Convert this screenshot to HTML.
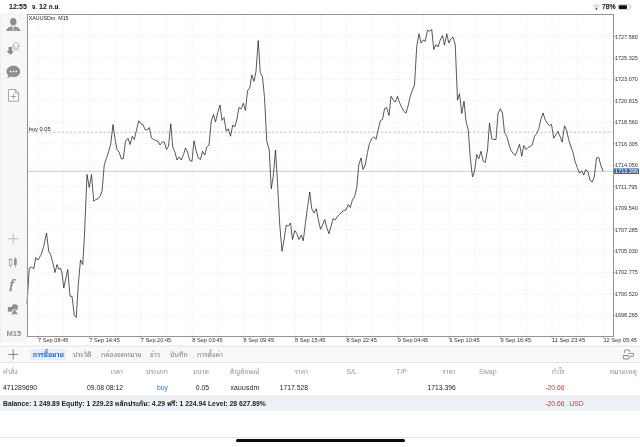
<!DOCTYPE html>
<html lang="th"><head><meta charset="utf-8"><title>XAUUSDm M15</title>
<style>
html,body{margin:0;padding:0;background:#fff;}
body{width:640px;height:447px;position:relative;overflow:hidden;font-family:"Liberation Sans","Noto Sans Thai Looped","Noto Sans Thai","Loma",sans-serif;color:#222;}
.abs{position:absolute;white-space:nowrap;}
.side{position:absolute;left:0;top:13px;width:27px;height:330px;background:#f7f7f7;border-left:1px solid #eeeff2;box-sizing:border-box;}
.chart{position:absolute;left:0;top:0;}
.g{stroke:#e3e3e3;stroke-width:0.8;stroke-dasharray:1.1 2.1;}
.pl{font-size:5.5px;fill:#333;font-family:"Liberation Sans",sans-serif;}
.tl{font-size:5.65px;fill:#333;font-family:"Liberation Sans",sans-serif;}
.tt{font-size:5.3px;fill:#222;font-family:"Liberation Sans",sans-serif;}
.sb{font-size:7px;font-weight:bold;color:#111;top:2.5px;line-height:8px;}
.th{font-size:6.1px;}
.tabbar{position:absolute;left:0;top:345px;width:640px;height:18px;background:#f9f9f9;border-top:2.7px solid #f0f0f0;border-bottom:1px solid #e6e6e6;box-sizing:border-box;}
.tab{font-size:7px;color:#7b8594;top:350.3px;line-height:9px;}
.tabsel{position:absolute;left:30px;top:349.1px;width:36.4px;height:10.5px;background:#e5effc;border-radius:2px;}
.hd{font-size:7px;color:#9a9a9a;top:366.5px;line-height:9px;}
.rw{font-size:6.8px;color:#222;top:382.5px;line-height:9px;}
.r{text-align:right;}
.sum{position:absolute;left:0;top:395.4px;width:640px;height:15.3px;background:#eef2f8;}
.sm{font-size:6.8px;font-weight:bold;color:#222;top:398.6px;line-height:9px;}
.home{position:absolute;left:235.5px;top:438.6px;width:169px;height:3.6px;border-radius:2px;background:#0a0a0a;}
.bl{position:absolute;left:0;top:436.6px;width:640px;height:0.7px;background:#e4e4e4;}
</style></head><body>
<div class="side"></div>
<svg class="chart" width="640" height="447" viewBox="0 0 640 447">
<line x1="38.0" y1="15" x2="38.0" y2="336" class="g"/>
<line x1="63.7" y1="15" x2="63.7" y2="336" class="g"/>
<line x1="89.4" y1="15" x2="89.4" y2="336" class="g"/>
<line x1="115.1" y1="15" x2="115.1" y2="336" class="g"/>
<line x1="140.8" y1="15" x2="140.8" y2="336" class="g"/>
<line x1="166.5" y1="15" x2="166.5" y2="336" class="g"/>
<line x1="192.2" y1="15" x2="192.2" y2="336" class="g"/>
<line x1="217.9" y1="15" x2="217.9" y2="336" class="g"/>
<line x1="243.6" y1="15" x2="243.6" y2="336" class="g"/>
<line x1="269.3" y1="15" x2="269.3" y2="336" class="g"/>
<line x1="295.0" y1="15" x2="295.0" y2="336" class="g"/>
<line x1="320.7" y1="15" x2="320.7" y2="336" class="g"/>
<line x1="346.4" y1="15" x2="346.4" y2="336" class="g"/>
<line x1="372.1" y1="15" x2="372.1" y2="336" class="g"/>
<line x1="397.8" y1="15" x2="397.8" y2="336" class="g"/>
<line x1="423.5" y1="15" x2="423.5" y2="336" class="g"/>
<line x1="449.2" y1="15" x2="449.2" y2="336" class="g"/>
<line x1="474.9" y1="15" x2="474.9" y2="336" class="g"/>
<line x1="500.6" y1="15" x2="500.6" y2="336" class="g"/>
<line x1="526.3" y1="15" x2="526.3" y2="336" class="g"/>
<line x1="552.0" y1="15" x2="552.0" y2="336" class="g"/>
<line x1="577.7" y1="15" x2="577.7" y2="336" class="g"/>
<line x1="603.4" y1="15" x2="603.4" y2="336" class="g"/>
<line x1="28" y1="36.5" x2="613" y2="36.5" class="g"/>
<line x1="28" y1="58.0" x2="613" y2="58.0" class="g"/>
<line x1="28" y1="79.4" x2="613" y2="79.4" class="g"/>
<line x1="28" y1="100.8" x2="613" y2="100.8" class="g"/>
<line x1="28" y1="122.3" x2="613" y2="122.3" class="g"/>
<line x1="28" y1="143.8" x2="613" y2="143.8" class="g"/>
<line x1="28" y1="165.2" x2="613" y2="165.2" class="g"/>
<line x1="28" y1="186.7" x2="613" y2="186.7" class="g"/>
<line x1="28" y1="208.1" x2="613" y2="208.1" class="g"/>
<line x1="28" y1="229.5" x2="613" y2="229.5" class="g"/>
<line x1="28" y1="251.0" x2="613" y2="251.0" class="g"/>
<line x1="28" y1="272.4" x2="613" y2="272.4" class="g"/>
<line x1="28" y1="293.9" x2="613" y2="293.9" class="g"/>
<line x1="28" y1="315.3" x2="613" y2="315.3" class="g"/>
<line x1="28" y1="132.2" x2="613" y2="132.2" stroke="#a8b2a8" stroke-width="0.8" stroke-dasharray="2.2 2"/>
<line x1="28" y1="171.3" x2="613" y2="171.3" stroke="#b6bccb" stroke-width="0.8"/>
<polyline points="27.00,303.75 29.25,268.25 31.25,267.00 33.75,268.75 35.75,257.50 38.00,260.00 41.25,254.50 43.75,246.25 46.50,233.00 48.75,251.25 50.50,254.50 52.50,261.25 55.00,272.50 57.00,264.50 59.00,269.50 60.50,268.00 62.00,273.00 63.75,288.00 65.75,278.75 67.75,269.50 70.00,296.25 72.00,296.25 74.25,315.00 76.25,317.50 78.25,285.00 80.50,260.00 82.75,264.50 84.50,234.00 87.00,174.50 89.25,187.50 91.50,174.50 93.75,201.25 95.75,199.50 98.00,198.75 100.00,196.25 102.00,191.25 104.25,165.00 106.25,158.75 108.75,151.25 110.75,143.75 113.00,124.50 115.00,138.75 117.00,149.50 119.25,152.50 121.25,158.75 123.25,158.75 125.50,141.25 128.00,138.25 130.00,144.50 132.25,136.25 134.25,139.50 136.50,130.00 138.75,120.75 140.75,123.75 143.00,124.50 145.00,129.50 147.25,130.00 149.25,127.50 151.50,138.00 153.75,139.50 155.75,140.50 158.00,141.25 160.00,145.00 162.25,142.00 164.25,142.00 166.50,149.50 168.50,146.25 170.75,123.75 172.75,147.00 175.00,152.50 177.00,160.00 179.25,157.00 181.25,160.00 183.50,154.50 185.50,148.00 187.50,152.00 189.75,160.50 192.00,161.25 194.00,140.75 196.25,151.25 198.25,158.00 200.50,159.50 202.50,151.25 204.75,155.00 206.75,147.00 209.00,145.00 211.25,121.25 213.50,114.50 215.50,122.00 217.75,112.50 220.00,105.00 222.00,120.50 224.00,117.50 226.25,131.25 228.25,128.75 230.50,136.25 232.75,125.00 234.75,127.00 236.75,120.00 239.00,107.50 241.25,108.75 243.25,103.25 245.50,110.50 247.50,90.75 249.75,88.00 251.75,75.00 254.00,81.25 256.00,71.25 258.25,40.50 260.25,72.50 262.50,77.00 264.50,97.50 266.75,141.00 269.25,150.00 271.25,188.75 273.25,176.25 275.50,150.00 277.50,182.50 279.75,225.00 282.00,251.25 284.00,240.00 286.25,225.00 288.25,226.25 290.50,223.00 292.50,239.50 294.75,230.50 297.00,233.75 299.00,239.50 301.25,235.00 303.25,240.75 305.50,222.50 307.50,207.50 309.75,192.00 311.75,208.75 314.00,213.00 316.25,208.75 318.25,219.50 320.50,229.25 322.50,225.00 324.75,219.50 326.75,227.50 329.00,233.75 331.00,226.25 333.25,218.75 335.25,220.00 337.50,216.25 339.50,214.50 341.75,212.00 343.75,210.50 346.00,210.00 348.25,204.50 350.25,207.50 352.50,199.50 354.50,197.00 356.75,187.50 358.75,165.00 361.00,158.00 363.00,169.50 365.25,165.00 367.50,152.50 369.40,143.75 371.50,139.00 373.75,136.90 376.00,139.40 378.10,130.00 380.40,120.60 382.50,119.40 384.60,108.50 386.60,107.50 389.00,115.60 391.00,96.25 393.25,100.00 395.25,102.00 397.50,96.25 399.50,102.50 401.75,107.50 403.75,111.25 406.00,113.25 408.00,106.25 410.25,96.25 412.50,90.00 414.50,85.00 416.75,46.25 419.00,33.75 421.00,43.00 423.25,40.00 425.25,41.25 427.50,30.00 429.50,31.25 431.75,29.50 433.75,49.50 436.00,44.50 438.00,47.00 440.25,40.00 442.50,35.50 444.50,45.00 446.75,33.75 448.75,43.00 451.00,38.75 453.00,37.00 455.25,45.00 457.50,100.00 459.50,93.75 461.75,113.50 464.00,101.25 466.00,121.00 468.25,130.00 470.25,157.50 472.50,177.00 474.50,171.25 476.75,154.50 478.75,158.75 481.00,151.25 483.25,161.25 485.25,162.50 487.50,150.00 489.50,123.00 491.75,138.75 493.75,139.50 496.00,139.50 498.00,113.75 500.25,108.75 502.50,113.00 504.50,132.50 506.75,136.25 508.75,143.75 511.00,150.50 513.00,153.25 515.25,155.50 517.25,150.50 519.50,144.25 521.75,156.25 523.75,145.50 526.00,149.50 528.00,147.50 530.25,146.25 532.25,145.00 534.50,136.25 536.50,133.75 538.75,128.75 541.00,118.75 543.00,113.00 545.25,120.00 547.25,123.00 549.50,125.50 551.50,124.50 553.75,138.25 555.75,135.00 558.00,131.25 560.25,137.00 562.25,142.00 564.50,125.75 566.50,130.00 568.75,140.00 570.75,146.25 573.00,152.50 575.00,161.25 577.25,167.50 579.50,173.25 581.50,170.75 583.75,175.00 585.75,169.50 588.00,172.00 590.00,180.00 592.25,182.00 594.25,177.00 596.50,158.00 598.75,157.50 600.75,165.00 603.00,171.25" fill="none" stroke="#222" stroke-width="0.75" stroke-linejoin="round"/>
<rect x="27.5" y="14.5" width="586" height="322" fill="none" stroke="#959595" stroke-width="1"/>
<line x1="613.5" y1="36.5" x2="615.5" y2="36.5" stroke="#8a8a8a" stroke-width="0.7"/>
<line x1="613.5" y1="58.0" x2="615.5" y2="58.0" stroke="#8a8a8a" stroke-width="0.7"/>
<line x1="613.5" y1="79.4" x2="615.5" y2="79.4" stroke="#8a8a8a" stroke-width="0.7"/>
<line x1="613.5" y1="100.8" x2="615.5" y2="100.8" stroke="#8a8a8a" stroke-width="0.7"/>
<line x1="613.5" y1="122.3" x2="615.5" y2="122.3" stroke="#8a8a8a" stroke-width="0.7"/>
<line x1="613.5" y1="143.8" x2="615.5" y2="143.8" stroke="#8a8a8a" stroke-width="0.7"/>
<line x1="613.5" y1="165.2" x2="615.5" y2="165.2" stroke="#8a8a8a" stroke-width="0.7"/>
<line x1="613.5" y1="186.7" x2="615.5" y2="186.7" stroke="#8a8a8a" stroke-width="0.7"/>
<line x1="613.5" y1="208.1" x2="615.5" y2="208.1" stroke="#8a8a8a" stroke-width="0.7"/>
<line x1="613.5" y1="229.5" x2="615.5" y2="229.5" stroke="#8a8a8a" stroke-width="0.7"/>
<line x1="613.5" y1="251.0" x2="615.5" y2="251.0" stroke="#8a8a8a" stroke-width="0.7"/>
<line x1="613.5" y1="272.4" x2="615.5" y2="272.4" stroke="#8a8a8a" stroke-width="0.7"/>
<line x1="613.5" y1="293.9" x2="615.5" y2="293.9" stroke="#8a8a8a" stroke-width="0.7"/>
<line x1="613.5" y1="315.3" x2="615.5" y2="315.3" stroke="#8a8a8a" stroke-width="0.7"/>
<line x1="38.0" y1="336.5" x2="38.0" y2="338.5" stroke="#8a8a8a" stroke-width="0.7"/>
<line x1="89.4" y1="336.5" x2="89.4" y2="338.5" stroke="#8a8a8a" stroke-width="0.7"/>
<line x1="140.8" y1="336.5" x2="140.8" y2="338.5" stroke="#8a8a8a" stroke-width="0.7"/>
<line x1="192.2" y1="336.5" x2="192.2" y2="338.5" stroke="#8a8a8a" stroke-width="0.7"/>
<line x1="243.6" y1="336.5" x2="243.6" y2="338.5" stroke="#8a8a8a" stroke-width="0.7"/>
<line x1="295.0" y1="336.5" x2="295.0" y2="338.5" stroke="#8a8a8a" stroke-width="0.7"/>
<line x1="346.4" y1="336.5" x2="346.4" y2="338.5" stroke="#8a8a8a" stroke-width="0.7"/>
<line x1="397.8" y1="336.5" x2="397.8" y2="338.5" stroke="#8a8a8a" stroke-width="0.7"/>
<line x1="449.2" y1="336.5" x2="449.2" y2="338.5" stroke="#8a8a8a" stroke-width="0.7"/>
<line x1="500.6" y1="336.5" x2="500.6" y2="338.5" stroke="#8a8a8a" stroke-width="0.7"/>
<line x1="552.0" y1="336.5" x2="552.0" y2="338.5" stroke="#8a8a8a" stroke-width="0.7"/>
<line x1="603.4" y1="336.5" x2="603.4" y2="338.5" stroke="#8a8a8a" stroke-width="0.7"/>
<text x="614.9" y="38.5" class="pl">1727.580</text>
<text x="614.9" y="60.0" class="pl">1725.325</text>
<text x="614.9" y="81.4" class="pl">1723.070</text>
<text x="614.9" y="102.8" class="pl">1720.815</text>
<text x="614.9" y="124.3" class="pl">1718.560</text>
<text x="614.9" y="145.8" class="pl">1716.305</text>
<text x="614.9" y="167.2" class="pl">1714.050</text>
<text x="614.9" y="188.7" class="pl">1711.795</text>
<text x="614.9" y="210.1" class="pl">1709.540</text>
<text x="614.9" y="231.5" class="pl">1707.285</text>
<text x="614.9" y="253.0" class="pl">1705.030</text>
<text x="614.9" y="274.4" class="pl">1702.775</text>
<text x="614.9" y="295.9" class="pl">1700.520</text>
<text x="614.9" y="317.3" class="pl">1698.265</text>
<text x="38.0" y="342.2" class="tl">7 Sep 08:45</text>
<text x="89.4" y="342.2" class="tl">7 Sep 14:45</text>
<text x="140.8" y="342.2" class="tl">7 Sep 20:45</text>
<text x="192.2" y="342.2" class="tl">8 Sep 03:45</text>
<text x="243.6" y="342.2" class="tl">8 Sep 09:45</text>
<text x="295.0" y="342.2" class="tl">8 Sep 15:45</text>
<text x="346.4" y="342.2" class="tl">8 Sep 22:45</text>
<text x="397.8" y="342.2" class="tl">9 Sep 04:45</text>
<text x="449.2" y="342.2" class="tl">9 Sep 10:45</text>
<text x="500.6" y="342.2" class="tl">9 Sep 16:45</text>
<text x="552.0" y="342.2" class="tl">11 Sep 23:45</text>
<text x="603.4" y="342.2" class="tl">12 Sep 05:45</text>
<rect x="614" y="168.4" width="25" height="5.6" fill="#3d64a0"/>
<text x="615.1" y="173.2" class="pl" fill="#fff" style="fill:#fff">1713.396</text>
<text x="28.8" y="19.6" class="tt">XAUUSDm, M15</text>
<text x="28.800" y="130.600" class="tt" style="font-size:5.7px">buy 0.05</text>
</svg>
<div class="abs sb" style="left:9px;">12:55</div>
<div class="abs sb" style="left:32px;"><span class="th">จ.</span> 12 <span class="th">ก.ย.</span></div>
<div class="abs sb" style="left:602px;font-size:6.8px;font-weight:normal;-webkit-text-stroke:0.25px #222;">78%</div>
<svg class="abs" style="left:592px;top:3px" width="42" height="8" viewBox="0 0 42 8">
<path d="M1.2 3.1 A4.6 4.6 0 0 1 7.600 3.1" fill="none" stroke="#c4c4c4" stroke-width="1"/>
<path d="M2.500 4.500 A2.800 2.800 0 0 1 6.300 4.500" fill="none" stroke="#c4c4c4" stroke-width="1"/>
<circle cx="4.400" cy="5.800" r="0.850" fill="#222"/>
<rect x="26.2" y="1.6" width="11.9" height="5" rx="1.4" fill="none" stroke="#a8a8a8" stroke-width="0.6"/>
<rect x="26.9" y="2.3" width="8.1" height="3.6" rx="0.9" fill="#111"/>
<path d="M38.8 3.2 v1.8 a1 1 0 0 0 0 -1.8z" fill="#a8a8a8"/>
</svg>

<!-- sidebar icons -->
<svg class="abs" style="left:0;top:13px" width="27" height="330" viewBox="0 13 27 330">
<g fill="#8e8e8e">
<!-- person -->
<ellipse cx="13.300" cy="21.700" rx="3.200" ry="3.800"/>
<path d="M6.4 31 q0.2 -3 3.4 -3.9 l2.1 -0.9 l1.3 2.6 l1.3 -2.6 l2.1 0.9 q3.2 0.9 3.4 3.9 z"/>
<path d="M12.500 28.300 v2.700 M14 28.300 v2.700 M10.300 29.300 v1.700 M16.200 29.300 v1.700" stroke="#f7f7f7" stroke-width="0.500" fill="none"/>
<!-- arrows -->
<path d="M8.5 47 h3.6 v4 h1.9 l-3.7 4 l-3.7 -4 h1.900 z"/>
<path d="M16 42.300 l3.500 3.800 h-1.800 v3.300 h-3.400 v-3.300 h-1.800 z" fill="#fff" stroke="#8e8e8e" stroke-width="0.7"/>
<!-- chat -->
<path d="M13.3 65.8 c3.9 0 6.8 2.5 6.8 5.6 s-2.9 5.6 -6.8 5.600 c-1 0 -2 -0.200 -2.900 -0.500 c-0.800 0.900 -2 1.500 -3.400 1.500 c0.900 -0.700 1.300 -1.700 1.300 -2.700 c-1.100 -1 -1.800 -2.400 -1.800 -3.900 c0 -3.100 2.900 -5.600 6.800 -5.600z"/>
<circle cx="10.400" cy="71.400" r="0.900" fill="#fff"/><circle cx="13.300" cy="71.400" r="0.900" fill="#fff"/><circle cx="16.200" cy="71.400" r="0.900" fill="#fff"/>
</g>
<!-- doc -->
<path d="M8.600 89.500 h6.600 l3.400 3.400 v8.300 h-10 z M15.200 89.500 v3.400 h3.400" fill="#fff" stroke="#8e8e8e" stroke-width="0.800" stroke-linejoin="round"/>
<path d="M13.600 93.800 v5.400 M10.900 96.500 h5.400" stroke="#8e8e8e" stroke-width="0.800" fill="none"/>
<!-- crosshair -->
<path d="M13.200 233.800 v10 M7.800 238.800 h10.900" stroke="#aaa" stroke-width="0.800" fill="none"/>
<!-- candles -->
<path d="M10.600 257.800 v1.800 M10.600 265.600 v1.800 M15.400 257 v10.400" stroke="#8e8e8e" stroke-width="0.700" fill="none"/>
<rect x="9.300" y="259.600" width="2.600" height="6" fill="#fff" stroke="#8e8e8e" stroke-width="0.700"/>
<rect x="14.100" y="258.800" width="2.600" height="6.200" fill="#8e8e8e"/>
<!-- f -->
<text transform="translate(9.6 288.3) scale(1.35 1)" x="0" y="0" font-family="Liberation Serif,serif" font-style="italic" font-size="11.500" fill="#808080" stroke="#808080" stroke-width="0.25">f</text>
<!-- shapes -->
<rect x="7.800" y="307" width="4.600" height="4.600" fill="#8e8e8e"/>
<circle cx="14.800" cy="307.300" r="3.100" fill="#8e8e8e"/>
<path d="M14.600 308.800 l3.700 5.800 h-7.400 z" fill="#8e8e8e" stroke="#f7f7f7" stroke-width="0.600"/>
<text x="6.400" y="336" font-family="Liberation Sans,sans-serif" font-weight="bold" font-size="7.600" fill="#909090">M15</text>
</svg>

<div class="tabbar"></div>
<svg class="abs" style="left:7px;top:348px" width="13" height="13" viewBox="0 0 13 13"><path d="M6.200 1.400 v10 M1.200 6.400 h10" stroke="#555" stroke-width="0.700" fill="none"/></svg>
<div class="tabsel"></div>
<div class="abs tab" style="left:32.8px;font-weight:bold;color:#2273d6;">การซื้อขาย</div>
<div class="abs tab" style="left:73px;">ประวัติ</div>
<div class="abs tab" style="left:101px;">กล่องจดหมาย</div>
<div class="abs tab" style="left:150px;">ข่าว</div>
<div class="abs tab" style="left:170px;">บันทึก</div>
<div class="abs tab" style="left:197px;">การตั้งค่า</div>
<svg class="abs" style="left:616px;top:344px" width="24" height="20" viewBox="616 344 24 20"><g fill="none" stroke="#777" stroke-width="0.85" stroke-linecap="round" stroke-linejoin="round"><path d="M624.4 352.7 V350.700 q0 -0.600 0.600 -0.600 H629 q0.600 0 0.600 0.600 V351.400"/><path d="M628.900 353.400 H632.900 q0.600 0 0.600 0.600 V355.700 q0 0.600 -0.600 0.600 H630.400"/><rect x="623.300" y="355.500" width="5.600" height="3.500" rx="0.600"/></g></svg>

<div class="abs hd" style="left:3px;">คำสั่ง</div>
<div class="abs hd r" style="right:517px;">เวลา</div>
<div class="abs hd r" style="right:472px;">ประเภท</div>
<div class="abs hd r" style="right:431px;">ขนาด</div>
<div class="abs hd r" style="right:380.500px;">สัญลักษณ์</div>
<div class="abs hd r" style="right:332px;">ราคา</div>
<div class="abs hd r" style="right:283px;">S/L</div>
<div class="abs hd r" style="right:233px;">T/P</div>
<div class="abs hd r" style="right:184.200px;">ราคา</div>
<div class="abs hd r" style="right:143.400px;">Swap</div>
<div class="abs hd r" style="right:75.400px;">กำไร</div>
<div class="abs hd r" style="right:3px;">หมายเหตุ</div>

<div class="abs rw" style="left:3px;">471289690</div>
<div class="abs rw r" style="right:517px;">09.08 08:12</div>
<div class="abs rw r" style="right:472px;color:#2a78d8;">buy</div>
<div class="abs rw r" style="right:431px;">0.05</div>
<div class="abs rw r" style="right:380.600px;letter-spacing:0.2px;">xauusdm</div>
<div class="abs rw r" style="right:332px;">1717.528</div>
<div class="abs rw r" style="right:184.200px;">1713.396</div>
<div class="abs rw r" style="right:75.400px;color:#e0352b;">-20.66</div>

<div class="sum"></div>
<div class="abs sm" style="left:3px;">Balance: 1 249.89 Equity: 1 229.23 หลักประกัน: 4.29 ฟรี: 1 224.94 Level: 28 627.89%</div>
<div class="abs sm r" style="right:75.400px;color:#e0352b;font-weight:normal;">-20.66</div>
<div class="abs sm" style="left:569.300px;color:#e0352b;font-weight:normal;">USD</div>
<div class="bl"></div>
<div class="home"></div>
</body></html>
